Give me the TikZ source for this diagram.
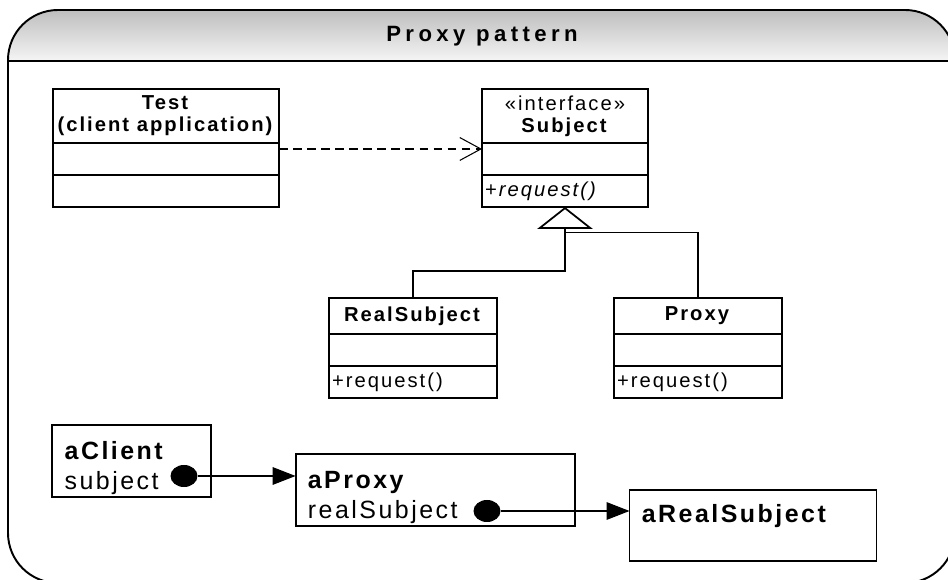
\documentclass[tikz,border=0pt]{standalone}
\usepackage{fontspec}
\setmainfont{Liberation Sans}[LetterSpace=10]
\usetikzlibrary{positioning,arrows.meta,shapes.geometric}

\begin{document}
\begin{tikzpicture}[x=0.02cm, y=-0.02cm,
		classname/.style={draw, line width=1.1pt, inner sep=0pt, outer sep=0pt, align=center,
			font=\fontsize{11.5}{12.5}\selectfont},
		compart/.style={draw, line width=1.1pt, inner sep=0pt, outer sep=0pt, minimum height=0.64cm},
		opsbox/.style={draw, line width=1.1pt, inner xsep=1.5pt, inner ysep=0pt, outer sep=0pt,
			minimum height=0.64cm, align=left, font=\fontsize{11.5}{12.5}\selectfont},
		objbox/.style={draw, line width=1.1pt, inner xsep=7pt, inner ysep=0pt, outer sep=0pt,
			align=left, font=\fontsize{14.2}{17}\selectfont},
		refdot/.style={ellipse, fill=black, inner sep=0pt, minimum width=0.54cm, minimum height=0.44cm},
		link/.style={line width=0.6pt},
		realizes/.style={link, dash pattern=on 5pt off 3pt, -{Straight Barb[length=12pt, width=13pt]}},
		inherits/.style={link, -{Triangle[open, fill=white, length=12.5pt, width=31.5pt, line width=1pt]}},
		refers/.style={link, -{Triangle[length=13pt, width=10pt]}}]
	\definecolor{bandtop}{RGB}{190,190,190}
	\definecolor{bandbottom}{RGB}{245,245,245}

	% cadre et bandeau de titre
	\clip (0,0) rectangle (948,580);
	\shade[top color=bandtop, bottom color=bandbottom]
		(8,61) [rounded corners=1cm] -- (8,10) -- (955,10) [sharp corners] -- (955,61) -- cycle;
	\draw[line width=1.1pt, rounded corners=1cm] (8,10) rectangle (955,583);
	\draw[line width=1.6pt] (8,61) -- (955,61);
	\node[font=\bfseries\fontsize{12.6}{14}\selectfont\addfontfeature{LetterSpace=20}] (title) at (482,36)
		{Proxy pattern};

	% diagramme de classes
	\node[classname, minimum width=4.52cm, minimum height=1.08cm] (test) at (166,116)
		{\textbf{Test}\\\textbf{(client application)}};
	\node[compart, minimum width=4.52cm, below=0pt of test] (test-attr) {};
	\node[compart, minimum width=4.52cm, below=0pt of test-attr] (test-ops) {};

	\node[classname, minimum width=3.32cm, minimum height=1.08cm] (subject) at (565,116)
		{«interface»\\\textbf{Subject}};
	\node[compart, minimum width=3.32cm, below=0pt of subject] (subject-attr) {};
	\node[opsbox, text width=91.1pt, below=0pt of subject-attr] (subject-ops) {\textit{+request()}};

	\node[classname, minimum width=3.36cm, minimum height=0.72cm] (realsub) at (413,316)
		{\textbf{RealSubject}};
	\node[compart, minimum width=3.36cm, below=0pt of realsub] (realsub-attr) {};
	\node[opsbox, text width=92.2pt, below=0pt of realsub-attr] (realsub-ops) {+request()};

	\node[classname, minimum width=3.36cm, minimum height=0.72cm] (proxy) at (698,316)
		{\textbf{Proxy}};
	\node[compart, minimum width=3.36cm, below=0pt of proxy] (proxy-attr) {};
	\node[opsbox, text width=92.2pt, below=0pt of proxy-attr] (proxy-ops) {+request()};

	\draw[realizes] ([yshift=-0.12cm]test-attr.north east) -- ([yshift=-0.12cm]subject-attr.north west);
	\coordinate (join) at ([yshift=-0.52cm]subject-ops.south);
	\draw[inherits] (realsub.north) -- ++(0,-27) -| (subject-ops.south);
	\draw[link] (proxy.north) |- (join);

	% objets
	\node[objbox, text width=76.1pt, minimum height=1.44cm] (aclient) at (131.5,461)
		{\rule{0pt}{18.5pt}\textbf{aClient}\\subject};
	\node[objbox, text width=145.3pt, minimum height=1.44cm] (aproxy) at (435.5,490)
		{\rule{0pt}{18.5pt}\textbf{aProxy}\\realSubject};
	\node[objbox, text width=126.6pt, minimum height=1.42cm] (areal) at (753,525.5)
		{\rule{0pt}{14pt}\textbf{aRealSubject}\\\mbox{}};

	\node[refdot] (clientref) at (184,476) {};
	\node[refdot] (proxyref) at (487,511) {};
	\draw[refers] (clientref) -- (aproxy.west |- clientref);
	\draw[refers] (proxyref) -- (areal.west |- proxyref);
\end{tikzpicture}
\end{document}
